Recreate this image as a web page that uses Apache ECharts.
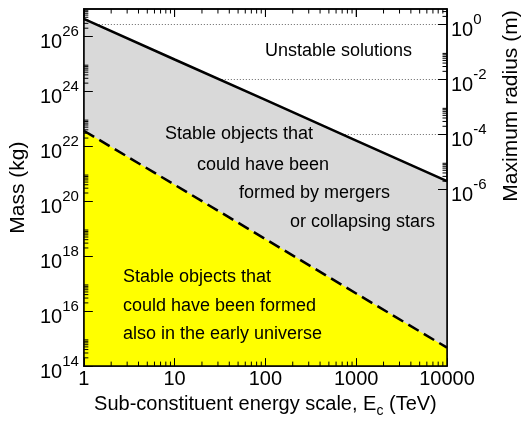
<!DOCTYPE html>
<html><head><meta charset="utf-8">
<script src="https://cdn.jsdelivr.net/npm/echarts@6/dist/echarts.min.js"></script>
<style>html,body{margin:0;padding:0;background:#fff}#c{width:522px;height:423px;background:#fff}</style>
</head><body><div id="c"></div>
<script>
// ---- data ----
const energyTeV = [1, 10, 100, 1000, 10000];
const maxStableMassKg = [4.4e26, 1.45e25, 4.9e23, 1.62e22, 5.4e20];
const earlyUniverseMassKg = [3.7e22, 4.0e20, 4.2e18, 4.4e16, 4.7e14];
const energyTicks = [1, 10, 100, 1000, 10000];
const massTicks = [1e14, 1e16, 1e18, 1e20, 1e22, 1e24, 1e26];
const radiusTicks = [1, 1e-2, 1e-4, 1e-6];
const energyRange = [1, 10000];
const massRange = [1e14, 1e27];
const radiusRange = [3.72e-13, 3.72];
const minorMults = [2, 3, 4, 5, 6, 7, 8, 9];

const FONT = "'Liberation Sans', Arial, Helvetica, sans-serif";
const energyMinor = [];
[1, 10, 100, 1000].forEach(b => minorMults.forEach(m => energyMinor.push(b * m)));
const massMinor = [];
massTicks.forEach(b => minorMults.forEach(m => { if (b * m <= massRange[1]) massMinor.push(b * m); }));
const radiusMinor = [];
radiusTicks.forEach(b => minorMults.forEach(m => { if (b * m <= radiusRange[1]) radiusMinor.push(b * m); }));
const energyInner = energyTicks.slice(1, -1);

const powRich = {
  b: { fontSize: 20, lineHeight: 28, verticalAlign: 'bottom', fontFamily: FONT, color: '#000' },
  s: { fontSize: 15, verticalAlign: 'top', fontFamily: FONT, color: '#000' }
};
const powFmt = v => '{b|10}{s|' + Math.round(Math.log10(v)) + '}';

// tick marks drawn through the axes' own scales (api.coord)
function tickSeries(yAxisIndex, points, dx, dy) {
  return {
    type: 'custom', xAxisIndex: 0, yAxisIndex: yAxisIndex, z: 5,
    data: points,
    renderItem: function (params, api) {
      const p = api.coord([api.value(0), api.value(1)]);
      return { type: 'line', shape: { x1: p[0], y1: p[1], x2: p[0] + dx, y2: p[1] + dy }, style: { stroke: '#000', lineWidth: 1 } };
    }
  };
}

const chart = echarts.init(document.getElementById('c'), null, { renderer: 'canvas' });
chart.setOption({
  animation: false,
  grid: { left: 82, right: 75, top: 9, bottom: 48, show: true, borderColor: '#000', borderWidth: 1.5 },
  xAxis: [
    {
      type: 'log', logBase: 10, min: energyRange[0], max: energyRange[1], position: 'bottom', z: 10,
      axisLine: { show: true, lineStyle: { color: '#000', width: 1.5 } },
      axisTick: { show: true, inside: true, length: 8, customValues: energyTicks, lineStyle: { color: '#000', width: 1 } },
      axisLabel: { customValues: energyTicks, margin: 3, fontSize: 20, color: '#000', fontFamily: FONT, formatter: v => String(Math.round(v)) },
      splitLine: { show: false },
      name: '{t|Sub-constituent energy scale, E}{c|c}{t| (TeV)}',
      nameLocation: 'middle', nameGap: 23,
      nameTextStyle: {
        rich: {
          t: { fontSize: 20, lineHeight: 24, verticalAlign: 'top', fontFamily: FONT, color: '#000' },
          c: { fontSize: 14, verticalAlign: 'bottom', fontFamily: FONT, color: '#000' }
        }
      }
    },
    {
      type: 'log', logBase: 10, min: energyRange[0], max: energyRange[1], position: 'top', z: 10,
      axisLine: { show: true, lineStyle: { color: '#000', width: 1.5 } },
      axisTick: { show: true, inside: true, length: 8, lineStyle: { color: '#000', width: 1 } },
      axisLabel: { show: true, inside: true, formatter: () => '' },
      splitLine: { show: false }
    }
  ],
  yAxis: [
    {
      type: 'log', logBase: 10, min: massRange[0], max: massRange[1], position: 'left', z: 10,
      axisLine: { show: true, lineStyle: { color: '#000', width: 1.5 } },
      axisTick: { show: true, inside: true, length: 9, customValues: massTicks, lineStyle: { color: '#000', width: 1 } },
      axisLabel: { customValues: massTicks, margin: 5, padding: [4, 0, 0, 0], formatter: powFmt, rich: powRich },
      splitLine: { show: false },
      name: 'Mass (kg)', nameLocation: 'middle', nameGap: 52,
      nameTextStyle: { fontSize: 21, fontFamily: FONT, color: '#000' }
    },
    {
      type: 'log', logBase: 10, min: radiusRange[0], max: radiusRange[1], position: 'right', z: 10,
      axisLine: { show: true, lineStyle: { color: '#000', width: 1.5 } },
      axisTick: { show: true, inside: true, length: 9, customValues: radiusTicks, lineStyle: { color: '#000', width: 1 } },
      axisLabel: { customValues: radiusTicks, margin: 4, padding: [4, 0, 0, 0], formatter: powFmt, rich: powRich },
      splitLine: { show: false }
    },
    {
      // dotted guide lines at the radius decades, drawn beneath the shaded regions
      type: 'log', logBase: 10, min: radiusRange[0], max: radiusRange[1], position: 'right', z: 0,
      axisLine: { show: false },
      axisTick: { show: false, customValues: radiusTicks },
      axisLabel: { show: false },
      splitLine: { show: true, lineStyle: { color: '#666', width: 1, type: [1, 2] } }
    }
  ],
  series: [
    {
      type: 'line', xAxisIndex: 0, yAxisIndex: 0,
      data: energyTeV.map((e, i) => [e, maxStableMassKg[i]]),
      showSymbol: false,
      lineStyle: { color: '#000', width: 2.5 },
      areaStyle: { color: '#d9d9d9', opacity: 1, origin: 'start' },
      z: 2
    },
    {
      type: 'line', xAxisIndex: 0, yAxisIndex: 0,
      data: energyTeV.map((e, i) => [e, earlyUniverseMassKg[i]]),
      showSymbol: false,
      lineStyle: { color: '#000', width: 2.5, type: [12, 6] },
      areaStyle: { color: '#ffff00', opacity: 1, origin: 'start' },
      z: 3
    },
    tickSeries(0, energyMinor.map(v => [v, massRange[0]]), 0, -4.5),
    tickSeries(0, energyMinor.map(v => [v, massRange[1]]), 0, 4.5),
    tickSeries(0, energyInner.map(v => [v, massRange[1]]), 0, 8),
    tickSeries(0, massMinor.map(v => [energyRange[0], v]), 4.5, 0),
    tickSeries(1, radiusMinor.map(v => [energyRange[1], v]), -4.5, 0)
  ]
});

const txt = (s, x, y, size, extra) => Object.assign({ type: 'text', x: x, y: y, z: 60, silent: true,
  style: { text: s, font: size + 'px ' + FONT, fill: '#000', align: 'left', verticalAlign: 'middle' } }, extra || {});
const texts = [
  txt('Maximum radius (m)', 511, 106, 21, { rotation: Math.PI / 2 }),
  txt('Unstable solutions', 265, 51, 18),
  txt('Stable objects that', 165, 134, 18),
  txt('could have been', 197, 165, 18),
  txt('formed by mergers', 239, 193, 18),
  txt('or collapsing stars', 290, 222, 18),
  txt('Stable objects that', 123, 277, 18),
  txt('could have been formed', 123, 306, 18),
  txt('also in the early universe', 123, 334, 18)
];
texts[0].style.align = 'center';
chart.setOption({ graphic: texts });
</script></body></html>
